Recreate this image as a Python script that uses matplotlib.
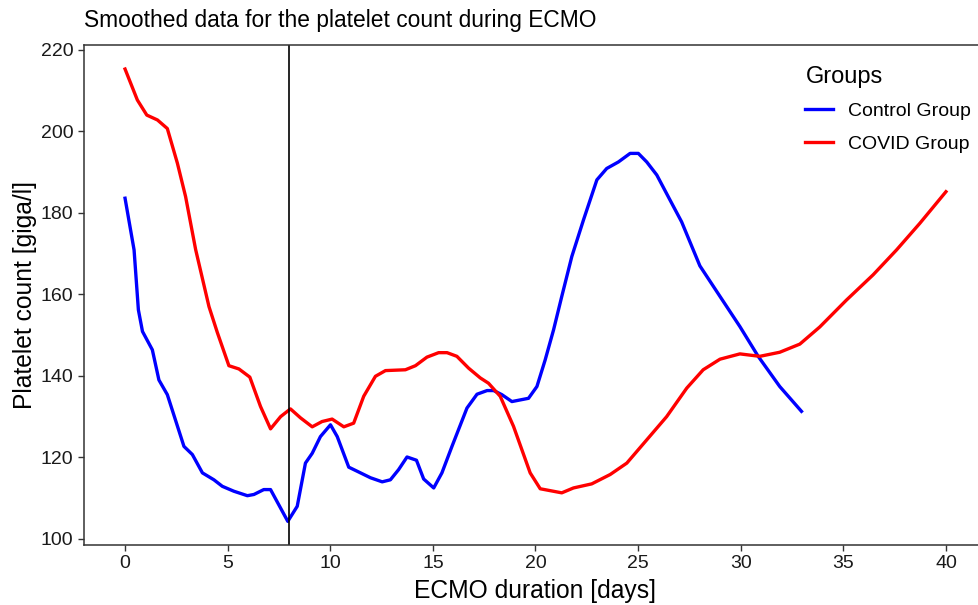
import numpy as np
import matplotlib
matplotlib.use("Agg")
import matplotlib.pyplot as plt

plt.rcParams['font.family'] = ['Liberation Sans', 'DejaVu Sans']

# smoothed curves (days, giga/l)
control_days = [0, 0.44, 0.65, 0.85, 1.33, 1.65, 2.06, 2.87, 3.28, 3.77, 4.33, 4.74,
                5.3, 5.96, 6.28, 6.76, 7.09, 7.93, 8.39, 8.79, 9.12, 9.52, 10.01, 10.34,
                10.9, 11.31, 11.96, 12.53, 12.93, 13.33, 13.74, 14.2, 14.55, 15.04, 15.44,
                15.93, 16.66, 17.15, 17.64, 17.96, 18.36, 18.85, 19.66, 20.07, 20.47, 20.88,
                21.28, 21.77, 22.34, 22.99, 23.47, 24.04, 24.61, 25.01, 25.42, 25.91, 26.55,
                27.12, 28.01, 28.99, 29.96, 30.85, 31.9, 32.96]
control_plt = [183.6, 170.9, 156.2, 150.9, 146.4, 139, 135.4, 122.7, 120.7, 116.2, 114.5, 112.9,
               111.7, 110.6, 110.9, 112.1, 112.1, 104.3, 108, 118.6, 121, 125.1, 128, 125.1,
               117.6, 116.6, 115, 114, 114.5, 117, 120.1, 119.3, 114.7, 112.5, 116.2,
               122.7, 132.1, 135.5, 136.4, 136.4, 135.4, 133.7, 134.5, 137.4, 143.9, 151.3,
               159.5, 169.3, 178.3, 188.1, 190.9, 192.5, 194.6, 194.6, 192.5, 189.3, 183.2,
               177.8, 167, 159.5, 152.1, 144.8, 137.4, 131.3]

covid_days = [0, 0.6, 1.06, 1.58, 2.06, 2.55, 2.95, 3.44, 4.09, 4.5, 5.06, 5.55, 6.08, 6.6,
              7.09, 7.58, 8.06, 8.55, 9.12, 9.6, 10.09, 10.66, 11.14, 11.63, 12.2, 12.69,
              13.66, 14.15, 14.71, 15.28, 15.69, 16.17, 16.74, 17.31, 17.71, 18.28, 18.93,
              19.74, 20.23, 21.28, 21.85, 22.74, 23.64, 24.45, 25.42, 26.39, 27.37, 28.17,
              28.99, 29.96, 30.93, 31.9, 32.88, 33.85, 35.15, 36.45, 37.59, 38.72, 40]
covid_plt = [215.3, 207.7, 204, 202.8, 200.7, 192.2, 184, 171, 157, 150.6, 142.5, 141.7, 139.7, 132.5,
             127, 130, 131.9, 129.7, 127.5, 128.8, 129.4, 127.5, 128.4, 135, 139.9, 141.3,
             141.5, 142.5, 144.6, 145.7, 145.7, 144.8, 141.9, 139.5, 138.2, 135, 127.6,
             116.2, 112.3, 111.3, 112.5, 113.5, 115.8, 118.6, 124.3, 130, 137, 141.5,
             144.1, 145.4, 144.8, 145.8, 147.8, 152, 158.6, 164.8, 170.9, 177.4, 185.2]

ecmo_start = 8

fig = plt.figure(figsize=(9.79, 6.05), dpi=100)
ax = fig.add_axes([84/979, 60/605, (987-84)/979, 500/605])

ax.plot(control_days, control_plt, color='#0000ff', lw=2.4, label='Control Group')
ax.plot(covid_days, covid_plt, color='#ff0000', lw=2.4, label='COVID Group')
ax.axvline(ecmo_start, color='black', lw=1.2)

ax.set_xlim(-2, 42)
ax.set_ylim(98.5, 221.2)
ax.set_xticks(np.arange(0, 41, 5))
ax.set_yticks(np.arange(100, 221, 20))
ax.tick_params(labelsize=14, length=4, width=1, color='#333333', labelcolor='#1a1a1a')
for side in ['left', 'top', 'bottom']:
    ax.spines[side].set_color('#333333')
    ax.spines[side].set_linewidth(1.1)
ax.spines['right'].set_visible(False)

ax.set_xlabel('ECMO duration [days]', fontsize=17.7, labelpad=5)
ax.set_ylabel('Platelet count [giga/l]', fontsize=17.7, labelpad=3)
fig.text(84/979, 1 - 20/605, 'Smoothed data for the platelet count during ECMO',
         fontsize=16.4, va='center', ha='left')

leg = ax.legend(title='Groups', frameon=False, fontsize=14, title_fontsize=17,
                loc='upper left', bbox_to_anchor=(788/979, 1 - 48/605),
                bbox_transform=fig.transFigure, alignment='left',
                handlelength=1.4, handletextpad=0.8, labelspacing=0.78)

fig.savefig('out.png', dpi=100)
